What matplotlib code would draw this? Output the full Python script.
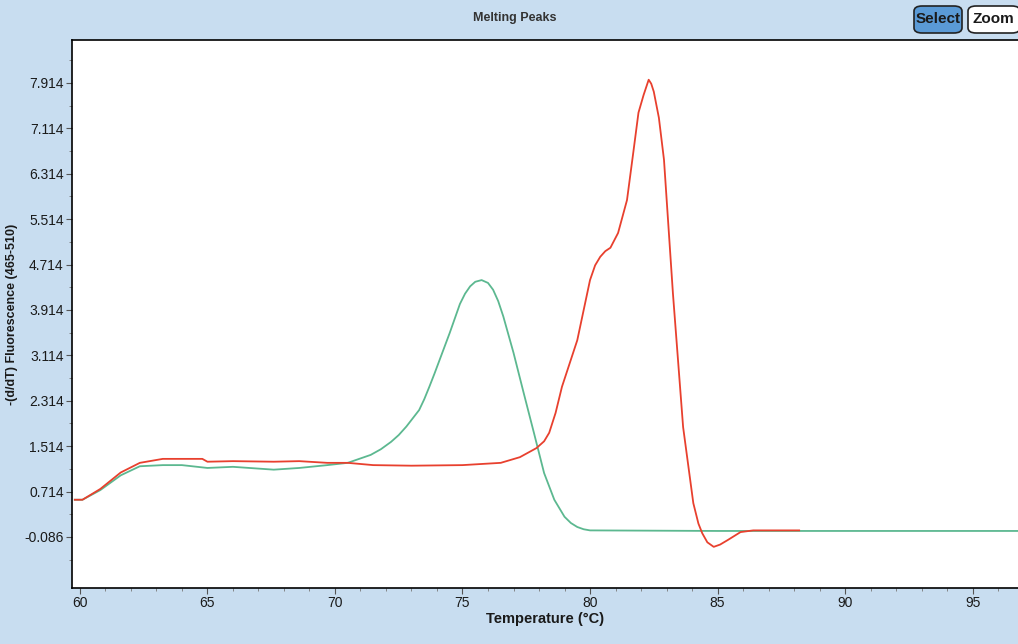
import matplotlib
matplotlib.use("Agg")
import matplotlib.pyplot as plt
from matplotlib.patches import FancyBboxPatch
from matplotlib.ticker import FixedLocator, MultipleLocator

plt.rcParams['font.family'] = ['Liberation Sans', 'DejaVu Sans']

# Green sample (peak ~75.8 °C)
green_t = [59.8, 60.1, 60.8, 61.6, 62.35, 63.25, 64.0, 65.0, 66.0, 67.6, 68.6, 69.7, 70.5,
           71.4, 71.8, 72.2, 72.5, 72.8, 73.3, 73.5, 73.7, 73.9, 74.1, 74.5, 74.9, 75.1,
           75.3, 75.5, 75.75, 76.0, 76.2, 76.4, 76.6, 77.0, 77.4, 77.8, 78.2, 78.6, 79.0,
           79.25, 79.5, 79.75, 80.0, 85.0, 90.0, 97.0]
green_v = [0.57, 0.57, 0.74, 1.0, 1.16, 1.18, 1.18, 1.13, 1.15, 1.10, 1.13, 1.18, 1.22,
           1.36, 1.46, 1.59, 1.71, 1.86, 2.15, 2.34, 2.56, 2.79, 3.03, 3.51, 4.02, 4.2,
           4.33, 4.41, 4.44, 4.39, 4.27, 4.07, 3.80, 3.16, 2.45, 1.75, 1.04, 0.57, 0.27,
           0.16, 0.09, 0.05, 0.03, 0.02, 0.02, 0.02]

# Red sample (peak ~82.3 °C with shoulder ~80.8 °C)
red_t = [59.8, 60.1, 60.8, 61.6, 62.35, 63.25, 64.8, 65.0, 66.0, 67.6, 68.6, 69.7, 70.5,
         71.5, 73.0, 75.0, 76.5, 77.25, 77.9, 78.2, 78.4, 78.65, 78.9, 79.5, 80.0, 80.2,
         80.4, 80.6, 80.8, 81.1, 81.45, 81.7, 81.9, 82.1, 82.3, 82.4, 82.5, 82.7, 82.9,
         83.25, 83.65, 84.05, 84.25, 84.4, 84.6, 84.85, 85.1, 85.4, 85.9, 86.4, 88.2]
red_v = [0.57, 0.57, 0.76, 1.05, 1.22, 1.29, 1.29, 1.24, 1.25, 1.24, 1.25, 1.22, 1.22,
         1.18, 1.17, 1.18, 1.22, 1.32, 1.48, 1.6, 1.75, 2.1, 2.56, 3.38, 4.44, 4.7,
         4.85, 4.95, 5.01, 5.27, 5.85, 6.7, 7.39, 7.7, 7.97, 7.9, 7.76, 7.3, 6.56,
         4.21, 1.85, 0.51, 0.15, -0.02, -0.18, -0.26, -0.22, -0.14, 0.0, 0.03, 0.03]

y_ticks = [-0.086, 0.714, 1.514, 2.314, 3.114, 3.914, 4.714, 5.514, 6.314, 7.114, 7.914]
x_ticks = [60, 65, 70, 75, 80, 85, 90, 95]

bg = '#c8ddf0'
fig = plt.figure(figsize=(10.18, 6.44), dpi=100, facecolor=bg)
ax = fig.add_axes([72/1018, 56/644, 946/1018, 548/644])
ax.set_facecolor('white')

ax.plot(green_t, green_v, color='#5cb890', lw=1.3)
ax.plot(red_t, red_v, color='#e8402e', lw=1.3)

ax.set_xlim(59.69, 96.78)
ax.set_ylim(-0.985, 8.67)

ax.yaxis.set_major_locator(FixedLocator(y_ticks))
ax.set_yticklabels([f"{v:.3f}" for v in y_ticks])
ax.yaxis.set_minor_locator(FixedLocator([v + 0.4 for v in y_ticks[:-1]] + [y_ticks[0] - 0.4, y_ticks[-1] + 0.4]))
ax.xaxis.set_major_locator(FixedLocator(x_ticks))
ax.xaxis.set_minor_locator(MultipleLocator(1))

ax.tick_params(axis='both', which='major', labelsize=10, length=4, width=0.8, color='#555555',
               labelcolor='#1a1a1a', pad=2)
ax.tick_params(axis='both', which='minor', length=2, width=0.6, color='#777777')
for s in ['left', 'bottom', 'top']:
    ax.spines[s].set_linewidth(1.2)
    ax.spines[s].set_color('black')
ax.spines['right'].set_visible(False)

ax.set_xlabel('Temperature (°C)', fontsize=10.5, fontweight='bold', labelpad=1, color='#1a1a1a')
ax.set_ylabel('-(d/dT) Fluorescence (465-510)', fontsize=9, fontweight='bold', color='#1a1a1a')
ax.yaxis.set_label_coords(-54/946, 0.5)

fig.text(515/1018, 1 - 18/644, 'Melting Peaks', ha='center', va='center',
         fontsize=9, fontweight='bold', color='#333333')

# Buttons
b1 = FancyBboxPatch((914/1018, 1 - 33/644), 48/1018, 27/644,
                    boxstyle='round,pad=0.0,rounding_size=0.008', transform=fig.transFigure,
                    facecolor='#5a9ad6', edgecolor='#222222', lw=1.2)
b2 = FancyBboxPatch((968/1018, 1 - 33/644), 52/1018, 27/644,
                    boxstyle='round,pad=0.0,rounding_size=0.008', transform=fig.transFigure,
                    facecolor='white', edgecolor='#222222', lw=1.2)
fig.patches.extend([b1, b2])
fig.text(938/1018, 1 - 19/644, 'Select', ha='center', va='center', fontsize=11,
         fontweight='bold', color='#1a1a1a')
fig.text(993/1018, 1 - 19/644, 'Zoom', ha='center', va='center', fontsize=11,
         fontweight='bold', color='#1a1a1a')

fig.savefig('out.png', dpi=100, facecolor=bg)
